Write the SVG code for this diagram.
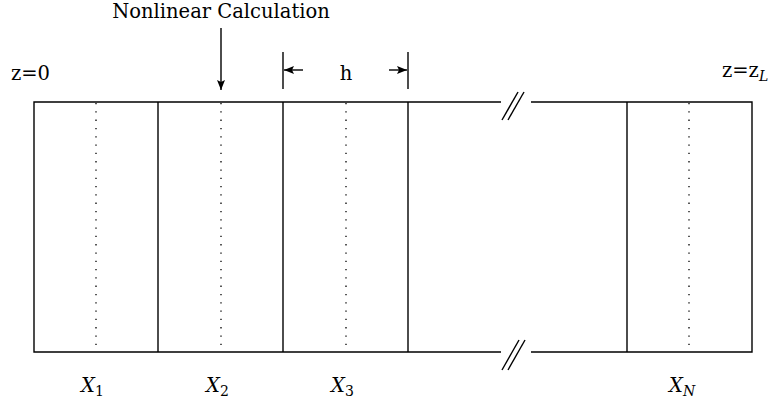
<svg xmlns="http://www.w3.org/2000/svg" width="778" height="404" viewBox="0 0 778 404">
<style>
.w{stroke:#000;stroke-width:1.4;fill:none}
.d{stroke:#000;stroke-width:1.3;fill:none;stroke-dasharray:1.3 7}
</style>
<defs>
<marker id="ah" viewBox="0 0 10 10" refX="10" refY="5" markerWidth="10" markerHeight="10" markerUnits="userSpaceOnUse" orient="auto">
<path d="M0,1 L10,5 L0,9 L2,5 Z" fill="#000"/>
</marker>
</defs>
<g id="connectors">
<line class="w" x1="221" y1="28" x2="221" y2="90" marker-end="url(#ah)"/>
<line class="w" x1="283" y1="52" x2="283" y2="89"/>
<line class="w" x1="408" y1="52" x2="408" y2="89"/>
<line class="w" x1="303" y1="70" x2="284" y2="70" marker-end="url(#ah)"/>
<line class="w" x1="389" y1="70" x2="407" y2="70" marker-end="url(#ah)"/>
</g>
<g id="waveguide">
<polyline class="w" points="501,102 34,102 34,352 501,352"/>
<polyline class="w" points="531,102 752,102 752,352 531,352"/>
<line class="w" x1="158" y1="102" x2="158" y2="352"/>
<line class="w" x1="283" y1="102" x2="283" y2="352"/>
<line class="w" x1="408" y1="102" x2="408" y2="352"/>
<line class="w" x1="627" y1="102" x2="627" y2="352"/>
<line class="d" x1="96" y1="103" x2="96" y2="352"/>
<line class="d" x1="221" y1="103" x2="221" y2="352"/>
<line class="d" x1="346" y1="103" x2="346" y2="352"/>
<line class="d" x1="689" y1="103" x2="689" y2="352"/>
<line class="w" x1="502" y1="120" x2="518" y2="92"/>
<line class="w" x1="508" y1="120" x2="524" y2="92"/>
<line class="w" x1="502" y1="370" x2="519" y2="340"/>
<line class="w" x1="508" y1="370" x2="525" y2="340"/>
</g>
<g id="labels" font-family="'DejaVu Serif', 'Liberation Serif', serif" font-size="19.5" fill="#000">
<text x="221" y="18" text-anchor="middle">Nonlinear Calculation</text>
<text x="346" y="80" text-anchor="middle">h</text>
<text x="11" y="80">z=0</text>
<text x="722" y="77">z=z<tspan font-style="italic" font-size="14" dy="4">L</tspan></text>
<text x="81" y="392" font-style="italic">X<tspan font-size="14" font-style="normal" dy="4">1</tspan></text>
<text x="206" y="392" font-style="italic">X<tspan font-size="14" font-style="normal" dy="4">2</tspan></text>
<text x="331" y="392" font-style="italic">X<tspan font-size="14" font-style="normal" dy="4">3</tspan></text>
<text x="669" y="392" font-style="italic">X<tspan font-size="14" dy="4">N</tspan></text>
</g>
</svg>
